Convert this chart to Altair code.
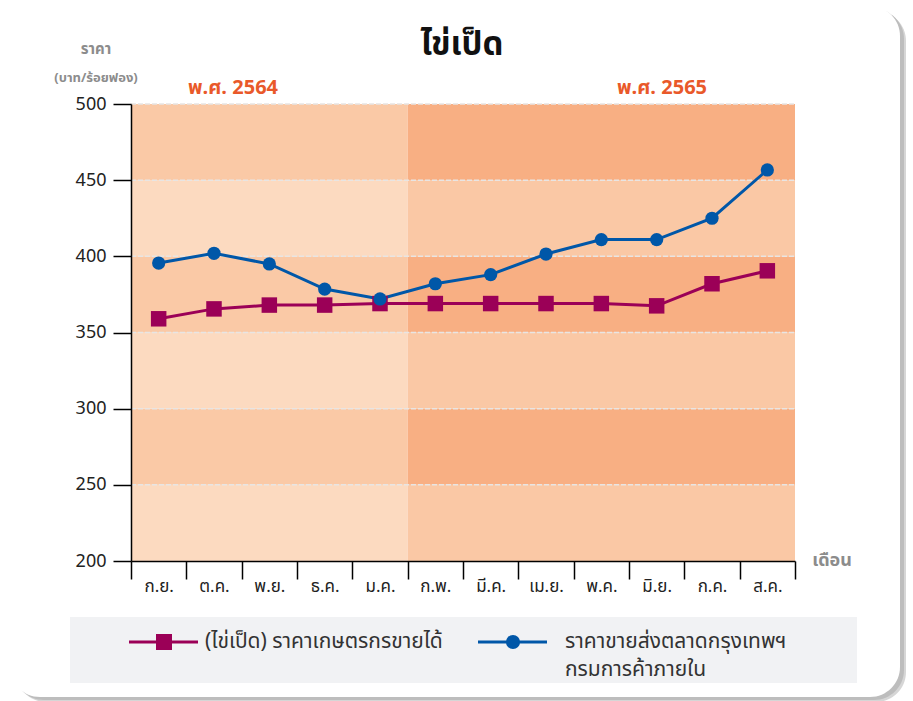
import json
import altair as alt
import pandas as pd

# ---------------- data ----------------
months = ['ก.ย.', 'ต.ค.', 'พ.ย.', 'ธ.ค.', 'ม.ค.', 'ก.พ.', 'มี.ค.', 'เม.ย.', 'พ.ค.', 'มิ.ย.', 'ก.ค.', 'ส.ค.']
farm_price = [359, 365.5, 368, 368, 369, 369, 369, 369, 369, 367.5, 382, 390.5]
wholesale_price = [395.6, 402, 395, 378.5, 372, 382, 388, 401.5, 411, 411, 425, 456.7]
y_ticks = [200, 250, 300, 350, 400, 450, 500]
years = ['พ.ศ. 2564', 'พ.ศ. 2565']
months_in_first_year = 5
title_text = 'ไข่เป็ด'
y_title = ['ราคา', '(บาท/ร้อยฟอง)']
x_title = 'เดือน'
legend_farm = '(ไข่เป็ด) ราคาเกษตรกรขายได้'
legend_wholesale = ['ราคาขายส่งตลาดกรุงเทพฯ', 'กรมการค้าภายใน']

# ---------------- styles ----------------
FONT = 'Noto Sans Thai, Noto Sans, sans-serif'
PURPLE = '#9B0057'
BLUE = '#0057A8'
ORANGE = '#E9592A'
GRAY_TXT = '#8C8C8C'
band_colors_first = ['#FCDAC0', '#FAC9A6']
band_colors_second = ['#FAC8A5', '#F8AF83']
W, H = 664, 457
N = len(months)
BAND = W / N

df = pd.DataFrame({'i': list(range(N)), 'month': months,
                   'farm': farm_price, 'wholesale': wholesale_price})

bands = []
for x0, x1, cols in [(0, months_in_first_year, band_colors_first),
                     (months_in_first_year, N, band_colors_second)]:
    for k in range(len(y_ticks) - 1):
        bands.append({'x0': x0, 'x1': x1, 'y0': y_ticks[k], 'y1': y_ticks[k + 1],
                      'c': cols[k % 2]})
bands_df = pd.DataFrame(bands)
grid_df = pd.DataFrame({'v': y_ticks[1:]})
one = pd.DataFrame({'a': [0]})

xs = alt.Scale(domain=[0, N], nice=False, zero=False)
ys = alt.Scale(domain=[y_ticks[0], y_ticks[-1]], nice=False, zero=False)

label_expr = ('datum.value < %d ? %s[datum.value] : ""'
              % (N, json.dumps(months, ensure_ascii=False)))
x_axis = alt.Axis(values=list(range(N + 1)), tickSize=18, tickColor='black', tickWidth=1.5,
                  domainColor='black', domainWidth=1.5, labelExpr=label_expr,
                  labelOffset=BAND / 2, labelFontSize=17, labelColor='#222', labelFont=FONT,
                  labelPadding=-1, labelAlign='center', labelFlush=False, labelOverlap=False,
                  labelBound=False, title=None, grid=False, zindex=1)
y_axis = alt.Axis(values=y_ticks, tickSize=18, tickColor='black', tickWidth=1.5,
                  domainColor='black', domainWidth=1.5, labelFontSize=18, labelColor='#222',
                  labelFont=FONT, labelPadding=7, title=None, grid=False, zindex=1)

# ---------------- card background ----------------
def card(dx, dy, color):
    return alt.Chart(one).mark_rect(cornerRadius=30, color=color).encode(
        x=alt.value(-121 + dx), x2=alt.value(769 + dx),
        y=alt.value(-98 + dy), y2=alt.value(593 + dy))

shadow1 = card(6, 5, '#d6d6d6')
shadow2 = card(4, 3, '#bdbdbd')
card_main = card(0, 0, 'white')

# ---------------- plot ----------------
band_layer = alt.Chart(bands_df).mark_rect().encode(
    x=alt.X('x0:Q', scale=xs, axis=x_axis), x2='x1:Q',
    y=alt.Y('y0:Q', scale=ys, axis=y_axis), y2='y1:Q',
    color=alt.Color('c:N', scale=None))

grid_layer = alt.Chart(grid_df).mark_rule(strokeDash=[5, 2], color='#E8E5E3', strokeWidth=1.5).encode(
    y=alt.Y('v:Q', scale=ys, axis=y_axis), x=alt.value(0), x2=alt.value(W))

base = alt.Chart(df).transform_calculate(xpos='datum.i + 0.5')
xenc = alt.X('xpos:Q', scale=xs, axis=x_axis)

farm_line = base.mark_line(color=PURPLE, strokeWidth=3).encode(
    x=xenc, y=alt.Y('farm:Q', scale=ys, axis=y_axis))
farm_pts = base.mark_point(shape='square', filled=True, size=240, opacity=1, color=PURPLE).encode(
    x=xenc, y=alt.Y('farm:Q', scale=ys, axis=y_axis))
whole_line = base.mark_line(color=BLUE, strokeWidth=3).encode(
    x=xenc, y=alt.Y('wholesale:Q', scale=ys, axis=y_axis))
whole_pts = base.mark_point(shape='circle', filled=True, size=175, opacity=1, color=BLUE).encode(
    x=xenc, y=alt.Y('wholesale:Q', scale=ys, axis=y_axis))

# ---------------- texts ----------------
def txt(t, x, y, size, color, weight='normal', align='center'):
    return alt.Chart(one).mark_text(text=t, font=FONT, fontSize=size, color=color,
                                    fontWeight=weight, align=align, baseline='middle').encode(
        x=alt.value(x), y=alt.value(y))

title_l = txt(title_text, 331, -59, 33, '#111', 'bold')
ytitle1 = txt(y_title[0], -35, -55, 15, GRAY_TXT, 'bold')
ytitle2 = txt(y_title[1], -35, -26, 13, GRAY_TXT, 'bold')
year1 = txt(years[0], 102, -16, 20, ORANGE, 'bold')
year2 = txt(years[1], 531, -16, 20, ORANGE, 'bold')
xtitle = txt(x_title, 701, 457, 18, GRAY_TXT, 'bold')

# ---------------- legend ----------------
leg_box = alt.Chart(one).mark_rect(color='#F1F2F4').encode(
    x=alt.value(-61), x2=alt.value(726), y=alt.value(513), y2=alt.value(579))
leg_line1 = alt.Chart(one).mark_rule(color=PURPLE, strokeWidth=3).encode(
    x=alt.value(-2), x2=alt.value(67), y=alt.value(538))
leg_pt1 = alt.Chart(one).mark_point(shape='square', filled=True, size=256, opacity=1, color=PURPLE).encode(
    x=alt.value(33), y=alt.value(538))
leg_txt1 = txt(legend_farm, 74, 538, 21, '#333', align='left')
leg_line2 = alt.Chart(one).mark_rule(color=BLUE, strokeWidth=3).encode(
    x=alt.value(347), x2=alt.value(416), y=alt.value(538))
leg_pt2 = alt.Chart(one).mark_point(shape='circle', filled=True, size=200, opacity=1, color=BLUE).encode(
    x=alt.value(382), y=alt.value(538))
leg_txt2a = txt(legend_wholesale[0], 434, 538, 21, '#333', align='left')
leg_txt2b = txt(legend_wholesale[1], 434, 566, 21, '#333', align='left')

chart = alt.layer(
    shadow1, shadow2, card_main,
    band_layer, grid_layer,
    farm_line, whole_line, farm_pts, whole_pts,
    title_l, ytitle1, ytitle2, year1, year2, xtitle,
    leg_box, leg_line1, leg_pt1, leg_txt1, leg_line2, leg_pt2, leg_txt2a, leg_txt2b,
).properties(
    width=W, height=H,
    autosize=alt.AutoSizeParams(type='none'),
    padding={'left': 131, 'top': 104, 'right': 118, 'bottom': 140},
    background='white',
).configure_view(stroke=None)

chart.save('out.html', embed_options={'renderer': 'svg', 'actions': False})
